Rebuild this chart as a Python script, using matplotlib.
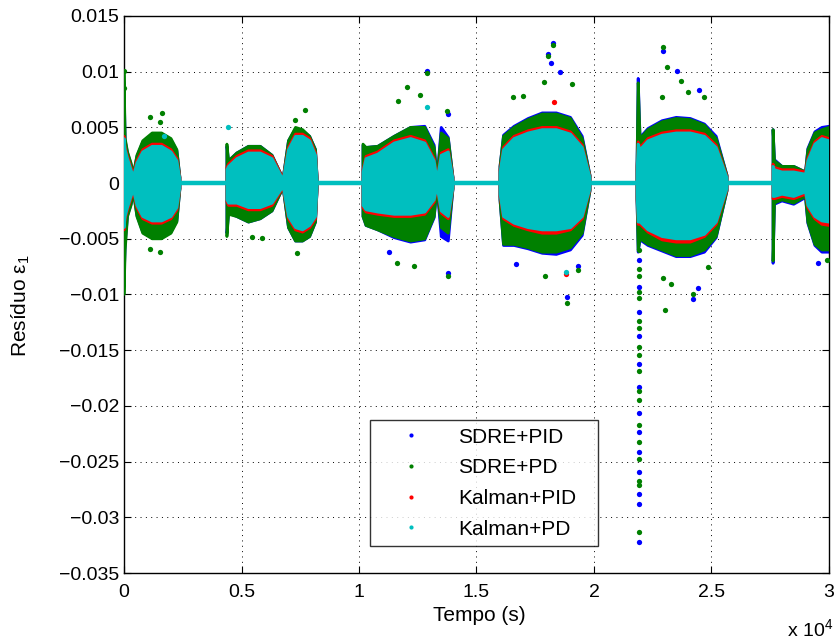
import numpy as np
import matplotlib
matplotlib.use("Agg")
import matplotlib.pyplot as plt
from matplotlib.ticker import FixedLocator, FixedFormatter

plt.rcParams['font.family'] = ['Liberation Sans', 'DejaVu Sans']
plt.rcParams['mathtext.fontset'] = 'custom'
plt.rcParams['mathtext.rm'] = 'Liberation Sans'
plt.rcParams['mathtext.it'] = 'Liberation Sans'

nan = np.nan
# envelope knots (time, s); nan separates bursts
t_env = [0, 50, 150, 300, 400, 550, 800, 1200, 1600, 2000, 2250, 2380, nan,
         4380, 4450, 4800, 5300, 5800, 6300, 6770, 7000, 7300, 7600, 7900, 8150, 8220, nan,
         10170, 10300, 10800, 11500, 12200, 12800, 13200, 13320, 13500, 13800, 14000, nan,
         16000, 16150, 16600, 17200, 17800, 18400, 19000, 19500, 19830, nan,
         21830, 21880, 21960, 22300, 22900, 23500, 24100, 24700, 25200, 25660, nan,
         27620, 27680, 28000, 28500, 29000, 29100, 29400, 29700, 30000]

series_names = ['SDRE+PID', 'SDRE+PD', 'Kalman+PID', 'Kalman+PD']
series_colors = ['#0000ff', '#008000', '#ff0000', '#00bfbf']

sdre_pid_up = [0.0090, 0.0038, 0.0027, 0.0017, 0.0008, 0.0024, 0.0037, 0.0044, 0.0044, 0.0039, 0.0029, 0.0005, nan,
               0.0033, 0.0020, 0.0027, 0.0033, 0.0033, 0.0025, 0.0004, 0.0038, 0.0049, 0.0047, 0.0042, 0.0030, 0.0004, nan,
               0.0034, 0.0032, 0.0033, 0.0042, 0.0050, 0.0051, 0.0034, 0.0004, 0.0050, 0.0041, 0.0005, nan,
               0.0015, 0.0043, 0.0051, 0.0058, 0.0063, 0.0063, 0.0059, 0.0042, 0.0007, nan,
               0.0015, 0.0094, 0.0041, 0.0049, 0.0056, 0.0059, 0.0058, 0.0053, 0.0042, 0.0007, nan,
               0.0048, 0.0021, 0.0015, 0.0015, 0.0010, 0.0031, 0.0046, 0.0050, 0.0051]
sdre_pid_low = [-0.0090, -0.0055, -0.0029, -0.0019, -0.0008, -0.0029, -0.0044, -0.0049, -0.0049, -0.0044, -0.0034, -0.0005, nan,
                -0.0045, -0.0027, -0.0030, -0.0035, -0.0032, -0.0025, -0.0004, -0.0040, -0.0052, -0.0052, -0.0048, -0.0035, -0.0004, nan,
                -0.0030, -0.0038, -0.0042, -0.0049, -0.0053, -0.0051, -0.0031, -0.0004, -0.0048, -0.0052, -0.0005, nan,
                -0.0015, -0.0056, -0.0056, -0.0059, -0.0063, -0.0064, -0.0060, -0.0047, -0.0007, nan,
                -0.0015, -0.0062, -0.0051, -0.0056, -0.0061, -0.0066, -0.0066, -0.0062, -0.0049, -0.0007, nan,
                -0.0072, -0.0019, -0.0016, -0.0019, -0.0013, -0.0036, -0.0056, -0.0062, -0.0062]

sdre_pd_up = [0.0100, 0.0040, 0.0028, 0.0018, 0.0008, 0.0025, 0.0038, 0.0045, 0.0045, 0.0040, 0.0030, 0.0005, nan,
              0.0035, 0.0020, 0.0027, 0.0033, 0.0033, 0.0025, 0.0004, 0.0038, 0.0050, 0.0048, 0.0042, 0.0030, 0.0004, nan,
              0.0035, 0.0032, 0.0033, 0.0042, 0.0050, 0.0050, 0.0032, 0.0004, 0.0045, 0.0040, 0.0005, nan,
              0.0015, 0.0042, 0.0050, 0.0057, 0.0062, 0.0062, 0.0058, 0.0040, 0.0007, nan,
              0.0015, 0.0090, 0.0040, 0.0048, 0.0055, 0.0058, 0.0057, 0.0052, 0.0040, 0.0007, nan,
              0.0048, 0.0020, 0.0015, 0.0015, 0.0010, 0.0030, 0.0045, 0.0048, 0.0050]
sdre_pd_low = [-0.0100, -0.0060, -0.0030, -0.0020, -0.0008, -0.0030, -0.0045, -0.0050, -0.0050, -0.0045, -0.0035, -0.0005, nan,
               -0.0048, -0.0028, -0.0030, -0.0035, -0.0032, -0.0025, -0.0004, -0.0040, -0.0052, -0.0052, -0.0048, -0.0035, -0.0004, nan,
               -0.0030, -0.0038, -0.0042, -0.0048, -0.0052, -0.0050, -0.0030, -0.0004, -0.0040, -0.0045, -0.0005, nan,
               -0.0015, -0.0055, -0.0055, -0.0058, -0.0062, -0.0062, -0.0058, -0.0045, -0.0007, nan,
               -0.0015, -0.0060, -0.0050, -0.0055, -0.0060, -0.0065, -0.0065, -0.0060, -0.0048, -0.0007, nan,
               -0.0070, -0.0018, -0.0015, -0.0018, -0.0012, -0.0035, -0.0055, -0.0060, -0.0060]

kalman_pid_up = [0.0042, 0.0032, 0.0024, 0.0014, 0.0008, 0.0020, 0.0030, 0.0035, 0.0035, 0.0030, 0.0022, 0.0005, nan,
                 0.0014, 0.0017, 0.0024, 0.0029, 0.0029, 0.0024, 0.0004, 0.0032, 0.0044, 0.0044, 0.0040, 0.0027, 0.0004, nan,
                 0.0012, 0.0024, 0.0028, 0.0038, 0.0042, 0.0038, 0.0022, 0.0004, 0.0027, 0.0030, 0.0005, nan,
                 0.0012, 0.0032, 0.0042, 0.0047, 0.0050, 0.0050, 0.0046, 0.0034, 0.0006, nan,
                 0.0012, 0.0037, 0.0032, 0.0040, 0.0045, 0.0047, 0.0047, 0.0044, 0.0034, 0.0006, nan,
                 0.0017, 0.0014, 0.0012, 0.0012, 0.0010, 0.0022, 0.0037, 0.0042, 0.0040]
kalman_pid_low = [-0.0042, -0.0032, -0.0024, -0.0014, -0.0008, -0.0022, -0.0032, -0.0036, -0.0036, -0.0032, -0.0024, -0.0005, nan,
                  -0.0017, -0.0020, -0.0020, -0.0024, -0.0024, -0.0020, -0.0004, -0.0032, -0.0042, -0.0044, -0.0040, -0.0032, -0.0004, nan,
                  -0.0022, -0.0026, -0.0028, -0.0030, -0.0030, -0.0028, -0.0017, -0.0004, -0.0027, -0.0032, -0.0005, nan,
                  -0.0012, -0.0032, -0.0038, -0.0042, -0.0045, -0.0045, -0.0042, -0.0032, -0.0006, nan,
                  -0.0012, -0.0037, -0.0037, -0.0044, -0.0051, -0.0053, -0.0053, -0.0048, -0.0037, -0.0006, nan,
                  -0.0014, -0.0014, -0.0012, -0.0014, -0.0010, -0.0022, -0.0032, -0.0037, -0.0038]

kalman_pd_up = [0.0040, 0.0030, 0.0022, 0.0012, 0.0006, 0.0018, 0.0028, 0.0033, 0.0033, 0.0028, 0.0020, 0.0004, nan,
                0.0012, 0.0015, 0.0022, 0.0027, 0.0027, 0.0022, 0.0003, 0.0030, 0.0042, 0.0042, 0.0038, 0.0025, 0.0003, nan,
                0.0010, 0.0022, 0.0026, 0.0036, 0.0040, 0.0036, 0.0020, 0.0003, 0.0025, 0.0028, 0.0004, nan,
                0.0010, 0.0030, 0.0040, 0.0045, 0.0048, 0.0048, 0.0044, 0.0032, 0.0005, nan,
                0.0010, 0.0035, 0.0030, 0.0038, 0.0043, 0.0045, 0.0045, 0.0042, 0.0032, 0.0005, nan,
                0.0015, 0.0012, 0.0010, 0.0010, 0.0008, 0.0020, 0.0035, 0.0040, 0.0038]
kalman_pd_low = [-0.0040, -0.0030, -0.0022, -0.0012, -0.0006, -0.0020, -0.0030, -0.0034, -0.0034, -0.0030, -0.0022, -0.0004, nan,
                 -0.0015, -0.0018, -0.0018, -0.0022, -0.0022, -0.0018, -0.0003, -0.0030, -0.0040, -0.0042, -0.0038, -0.0030, -0.0003, nan,
                 -0.0020, -0.0024, -0.0026, -0.0028, -0.0028, -0.0026, -0.0015, -0.0003, -0.0025, -0.0030, -0.0004, nan,
                 -0.0010, -0.0030, -0.0036, -0.0040, -0.0042, -0.0042, -0.0040, -0.0030, -0.0005, nan,
                 -0.0010, -0.0035, -0.0035, -0.0042, -0.0048, -0.0050, -0.0050, -0.0046, -0.0035, -0.0005, nan,
                 -0.0012, -0.0012, -0.0010, -0.0012, -0.0008, -0.0020, -0.0030, -0.0034, -0.0035]

# isolated points (outliers)
sdre_pid_out_t = [18254, 18041, 18169, 18552, 12892, 22935, 23531, 24467, 24212, 18850, 13787, 16680,
                  19318, 11276, 24424, 29530, 13787,
                  21926, 21926, 21926, 21926, 21926, 21926, 21926, 21926, 21926, 21926, 21926, 21926, 21926]
sdre_pid_out_v = [0.0126, 0.0116, 0.0108, 0.0100, 0.0101, 0.0119, 0.0101, 0.0084, -0.0104, -0.0102, -0.0081, -0.0073,
                  -0.0074, -0.0062, -0.0094, -0.0072, 0.0062,
                  -0.0069, -0.0093, -0.0116, -0.0137, -0.0162, -0.0183, -0.0206, -0.0223, -0.0241, -0.0259, -0.0279, -0.0288, -0.0322]
sdre_pd_out_t = [0, 0, 1106, 1617, 1532, 7700, 7276, 1532, 1106, 7361, 5446, 5872, 18254, 18041, 17871, 19063,
                 12892, 12041, 12594, 11659, 16552, 16977, 13744, 13787, 18850, 17914, 12339, 11617, 19318,
                 22935, 23106, 23701, 23999, 24680, 22893, 23020, 24212, 23276, 22935, 24850, 29913,
                 21926, 21926, 21926, 21926, 21926, 21926, 21926, 21926, 21926, 21926, 21926, 21926, 21926,
                 21926, 21926, 21926, 21926, 21926]
sdre_pd_out_v = [0.0101, 0.0085, 0.0059, 0.0063, 0.0055, 0.0066, 0.0057, -0.0062, -0.0059, -0.0063, -0.0048, -0.0049,
                 0.0124, 0.0114, 0.0091, 0.0089, 0.0099, 0.0086, 0.0079, 0.0074, 0.0077, 0.0078, 0.0065, -0.0083,
                 -0.0108, -0.0083, -0.0074, -0.0072, -0.0078,
                 0.0122, 0.0104, 0.0092, 0.0082, 0.0077, 0.0077, -0.0114, -0.0100, -0.0091, -0.0085, -0.0075, -0.0069,
                 -0.0060, -0.0077, -0.0083, -0.0098, -0.0103, -0.0124, -0.0130, -0.0147, -0.0154, -0.0169, -0.0187,
                 -0.0195, -0.0217, -0.0232, -0.0248, -0.0267, -0.0271, -0.0313]
kalman_pid_out_t = [18807, 18300]
kalman_pid_out_v = [-0.0082, 0.0073]
kalman_pd_out_t = [4425, 12892, 18807, 1700]
kalman_pd_out_v = [0.0050, 0.0068, -0.0080, 0.0042]

xticks = [0, 5000, 10000, 15000, 20000, 25000, 30000]
xticklabels = ['0', '0.5', '1', '1.5', '2', '2.5', '3']
yticks = [-0.035, -0.03, -0.025, -0.02, -0.015, -0.01, -0.005, 0, 0.005, 0.01, 0.015]
yticklabels = ['\u22120.035', '\u22120.03', '\u22120.025', '\u22120.02', '\u22120.015', '\u22120.01',
               '\u22120.005', '0', '0.005', '0.01', '0.015']

fig = plt.figure(figsize=(8.34, 6.39), dpi=100)
ax = fig.add_axes([124 / 834, 1 - 573 / 639, 705 / 834, 557 / 639])

ups = [sdre_pid_up, sdre_pd_up, kalman_pid_up, kalman_pd_up]
lows = [sdre_pid_low, sdre_pd_low, kalman_pid_low, kalman_pd_low]
outs = [(sdre_pid_out_t, sdre_pid_out_v), (sdre_pd_out_t, sdre_pd_out_v),
        (kalman_pid_out_t, kalman_pid_out_v), (kalman_pd_out_t, kalman_pd_out_v)]

t_arr = np.array(t_env, dtype=float)
for i, (name, col) in enumerate(zip(series_names, series_colors)):
    up = np.array(ups[i], dtype=float)
    lo = np.array(lows[i], dtype=float)
    ax.fill_between(t_arr, lo, up, facecolor=col, edgecolor=col, linewidth=2.0, zorder=2 + i)
    ot, ov = outs[i]
    ax.plot(ot, ov, linestyle='none', marker='o', ms=3.8, mec='none', mfc=col, zorder=2 + i)
    ax.plot([], [], linestyle='none', marker='o', ms=3.0, mec='none', mfc=col, label=name)

# baseline of Kalman+PD between bursts
ax.plot([0, 30000], [0, 0], color='#00bfbf', lw=3.2, zorder=6, solid_capstyle='butt')

ax.set_xlim(0, 30000)
ax.set_ylim(-0.035, 0.015)
ax.xaxis.set_major_locator(FixedLocator(xticks))
ax.xaxis.set_major_formatter(FixedFormatter(xticklabels))
ax.yaxis.set_major_locator(FixedLocator(yticks))
ax.yaxis.set_major_formatter(FixedFormatter(yticklabels))
ax.tick_params(direction='in', length=5, width=0.8, top=True, right=True, labelsize=14)
ax.tick_params(axis='x', pad=8)
ax.tick_params(axis='y', pad=3.5)
ax.grid(True, linestyle=(0, (1, 4.5)), color='black', linewidth=0.7)
ax.set_axisbelow(True)
for s in ax.spines.values():
    s.set_linewidth(1.0)

ax.set_xlabel('Tempo (s)', fontsize=15)
ax.xaxis.set_label_coords(0.504, -0.059)
ax.set_ylabel('Resíduo \u03b5$_1$', fontsize=15)
ax.yaxis.set_label_coords(-0.13, 0.48)
ax.text(1.0057, -0.1, 'x 10$^4$', transform=ax.transAxes, ha='right', va='center', fontsize=14)

leg = ax.legend(loc='lower left', bbox_to_anchor=(0.349, 0.0485, 0.323, 0.226), mode='expand',
                borderaxespad=0, fontsize=15, frameon=True, fancybox=False, edgecolor='black',
                handlelength=3.27, handletextpad=0.6, borderpad=0.35, labelspacing=0.56, numpoints=1)
leg.get_frame().set_linewidth(1.0)
leg.set_zorder(20)

fig.savefig('out.png', dpi=100)
